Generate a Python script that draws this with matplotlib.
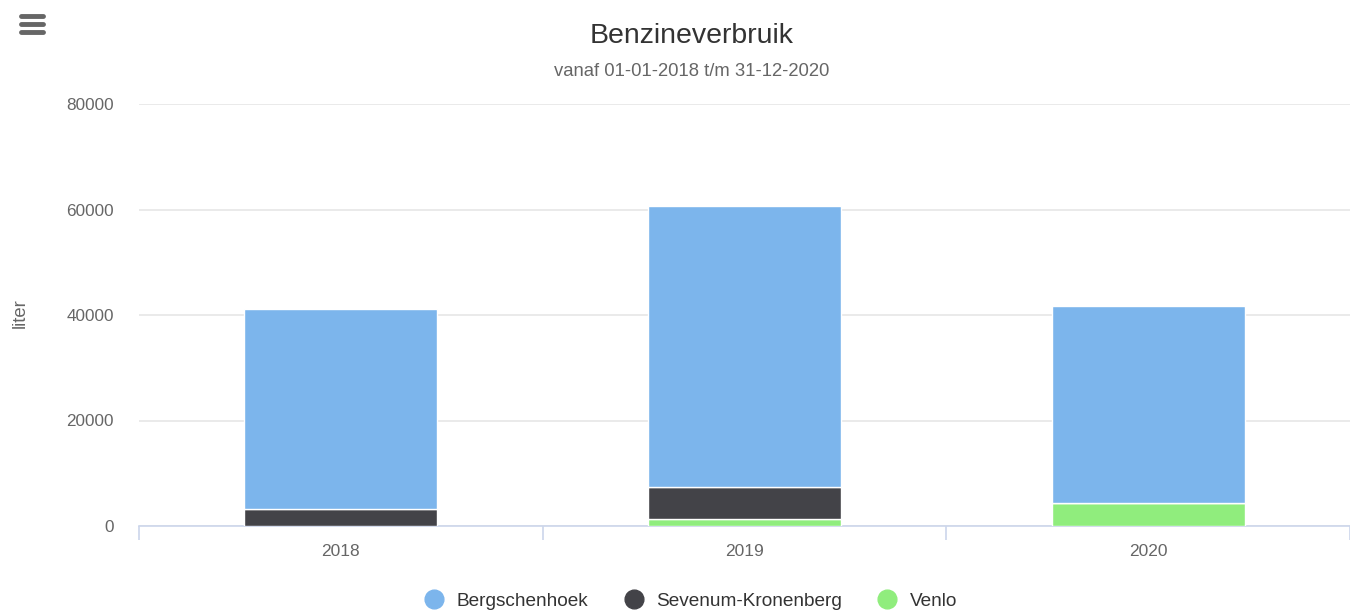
import matplotlib.pyplot as plt
from matplotlib.lines import Line2D
import numpy as np

plt.rcParams['font.family'] = ['Liberation Sans', 'DejaVu Sans']

# data (liter)
years = ['2018', '2019', '2020']
bergschenhoek = [37800, 53270, 37290]
sevenum = [3300, 6050, 0]
venlo = [0, 1400, 4420]

series_names = ['Bergschenhoek', 'Sevenum-Kronenberg', 'Venlo']
colors = ['#7cb5ec', '#434348', '#90ed7d']

fig = plt.figure(figsize=(13.5, 6.12), dpi=100)
ax = fig.add_axes([139/1350, 1 - 526/612, 1 - 139/1350, (526 - 104)/612])

x = np.arange(len(years))
width = 0.478
# stacking order: Venlo at bottom, then Sevenum, then Bergschenhoek
bottom = np.zeros(len(years))
for vals, col in [(venlo, colors[2]), (sevenum, colors[1]), (bergschenhoek, colors[0])]:
    vals = np.array(vals, dtype=float)
    ax.bar(x, vals, width, bottom=bottom, color=col, edgecolor='white', linewidth=1, zorder=3)
    bottom += vals

ax.set_xlim(-0.5, len(years) - 0.5)
ax.set_ylim(0, 80000)
ax.set_yticks([0, 20000, 40000, 60000, 80000])
ax.set_yticklabels(['0', '20000', '40000', '60000', '80000'])
ax.yaxis.grid(True, color='#e6e6e6', linewidth=1.2, zorder=0)
ax.set_axisbelow(True)
for s in ['top', 'right', 'left']:
    ax.spines[s].set_visible(False)
ax.spines['bottom'].set_color('#ccd6eb')
ax.spines['bottom'].set_linewidth(1.2)

ax.set_xticks(x)
ax.set_xticklabels(years)
ax.tick_params(axis='x', length=0, colors='#666666', labelsize=12.5, pad=13)
ax.tick_params(axis='y', length=0, colors='#666666', labelsize=12.3, pad=18)
# category separator ticks
ax.set_xticks(np.arange(len(years) + 1) - 0.5, minor=True)
ax.tick_params(axis='x', which='minor', length=10, color='#ccd6eb', width=1.2)

fig.text(20/1350, 1 - 313/612, 'liter', rotation=90, ha='center', va='center',
         fontsize=13.3, color='#666666')

fig.text(692/1350, 1 - 36/612, 'Benzineverbruik', ha='center', va='center',
         fontsize=20.5, color='#333333')
fig.text(692/1350, 1 - 72/612, 'vanaf 01-01-2018 t/m 31-12-2020', ha='center',
         va='center', fontsize=13.3, color='#666666')

# menu icon
for yy in [16, 24, 32]:
    fig.add_artist(Line2D([21/1350, 43/1350], [1 - yy/612, 1 - yy/612],
                          color='#666666', linewidth=3.5, solid_capstyle='round'))

handles = [Line2D([], [], marker='o', linestyle='none', markersize=13.5,
                  markerfacecolor=c, markeredgecolor=c) for c in colors]
fig.legend(handles, series_names, loc='center', ncol=3,
           bbox_to_anchor=(691/1350, 1 - 601/612), frameon=False,
           fontsize=13.7, labelcolor='#333333', handletextpad=0.7,
           columnspacing=1.87, handlelength=1.0)

fig.savefig('out.png', dpi=100)
